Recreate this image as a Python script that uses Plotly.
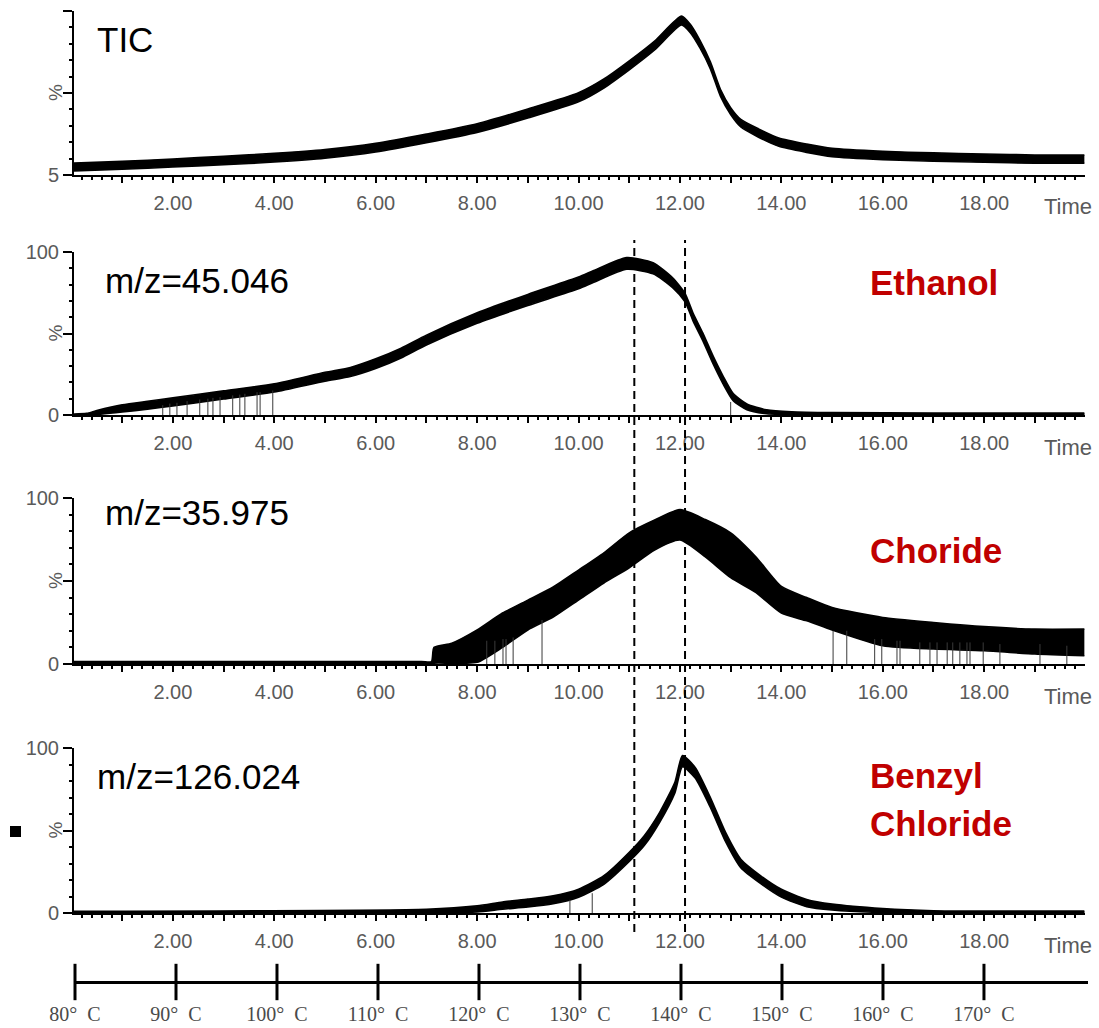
import plotly.graph_objects as go

W, H = 1099, 1028
def fx(px): return px / W
def fy(py): return 1 - py / H

# ---------------- data ----------------
# TIC panel: time, band centre (%), band half-thickness (%)
tic_t = [0.05, 1, 2, 3, 4, 5, 6, 7, 8, 9, 10, 10.5, 11, 11.5, 12.03, 12.2, 12.4, 12.6,
         12.8, 13.0, 13.2, 13.55, 13.95, 14.5, 15, 16, 17, 18, 19, 19.98]
tic_c = [9.6, 10.6, 11.9, 13.4, 15.0, 17.2, 20.8, 26.2, 32.2, 40.6, 50.0, 58.0, 68.5, 80.0,
         94.5, 90.0, 80.5, 68.5, 52.5, 42.0, 35.0, 29.3, 24.0, 20.5, 18.0, 16.3, 15.4, 14.8, 14.2, 14.2]
tic_s = [2.3, 2.3, 2.3, 2.5, 2.5, 2.5, 2.5, 2.5, 2.5, 2.6, 2.6, 2.6, 2.6, 2.6, 2.6, 2.4, 2.2, 2.0,
         2.0, 2.0, 2.2, 2.4, 2.4, 2.4, 2.4, 2.4, 2.4, 2.4, 2.4, 2.4]

# Ethanol m/z=45.046
eth_t = [0.05, 0.3, 0.5, 1, 1.5, 2, 3, 4, 5, 5.5, 6, 6.5, 7, 8, 9, 10, 10.3, 10.95, 11.47, 11.86, 12.1,
         12.26, 12.45, 12.65, 12.85, 13.05, 13.32, 13.71, 14.2, 15, 17, 19.98]
eth_c = [0.3, 0.5, 1.5, 4.0, 6.0, 8.0, 12.3, 16.6, 23.5, 26.4, 31.5, 38.0, 46.0, 59.5, 70.6, 81.0, 85.0,
         93.0, 90.0, 81.0, 72.0, 60.0, 48.0, 34.0, 21.5, 11.0, 5.0, 2.0, 1.2, 0.9, 0.7, 0.7]
eth_s = [0.3, 0.5, 1.2, 2.2, 2.4, 2.5, 2.5, 2.5, 2.7, 2.8, 3.0, 3.0, 3.0, 3.2, 3.4, 3.6, 3.6, 3.6, 3.4,
         3.0, 2.6, 2.4, 2.4, 2.4, 2.4, 2.2, 1.8, 1.2, 0.8, 0.6, 0.5, 0.5]
eth_spike_t = [1.80, 1.94, 2.08, 2.28, 2.53, 2.69, 2.79, 2.93, 3.18, 3.32, 3.42, 3.66, 3.72, 3.97, 13.0]
eth_spike_v = [6, 7, 7.5, 8.5, 9.5, 10, 10.5, 11, 12, 12.5, 13, 14, 14, 15, 8]

# Choride m/z=35.975 : time, upper and lower edge of the band (%)
chl_t = [0.05, 6.9, 7.1, 7.15, 7.5, 8.0, 8.5, 9.0, 9.5, 10.0, 10.5, 11.0, 11.5, 12.0, 12.5,
         13.0, 13.5, 14.0, 14.5, 15.0, 16.0, 17.0, 18.0, 19.0, 19.98]
chl_hi = [1.5, 1.5, 1.5, 10, 12.5, 20.5, 30.7, 38.5, 46.4, 56.6, 67, 79, 86.7, 93, 87,
          79, 64.5, 46.7, 40, 34, 28, 25, 22.5, 21, 21]
chl_lo = [0, 0, 0, 0.5, 0.5, 1, 10, 20.5, 28.3, 38.5, 48.8, 58, 68.7, 74.7, 64.5,
          52, 43, 30.7, 26, 20.5, 11, 9, 8, 6, 5]
chl_spike_t = [8.19, 8.35, 8.51, 8.57, 8.71, 9.28, 15.02, 15.29, 15.84, 15.98, 16.28, 16.34,
               16.73, 16.93, 17.07, 17.27, 17.38, 17.52, 17.66, 17.72, 17.98, 18.31, 19.1, 19.63]
chl_spike_v = [14, 14, 15, 15, 16, 26.5, 20, 20, 15, 15, 14, 14, 13, 13, 13, 13, 13, 13, 13,
               13, 13, 12, 12, 11]

# Benzyl Chloride m/z=126.024
bzc_t = [0.05, 7, 8, 8.5, 9, 9.5, 10, 10.5, 11, 11.3, 11.6, 11.9, 12.05, 12.3, 12.6, 12.9,
         13.2, 13.6, 14, 14.5, 15, 16, 17, 19.98]
bzc_c = [0.5, 1.2, 2.5, 4.5, 6, 8, 12, 20, 34, 44, 58, 76, 92, 85, 67, 46, 30, 20, 12, 6,
         3.6, 1.5, 0.8, 0.7]
bzc_s = [0.5, 1.0, 1.8, 2.2, 2.4, 2.4, 2.4, 2.6, 2.8, 3.0, 3.0, 3.2, 3.4, 3.2, 3.0, 2.8,
         2.6, 2.4, 2.4, 2.2, 1.8, 1.2, 0.6, 0.5]
bzc_spike_t = [9.83, 10.27]
bzc_spike_v = [8, 12]

marker_times = [11.1, 12.1]

time_major = list(range(1, 20))
time_text = ["%.2f" % v if v % 2 == 0 else "" for v in time_major]

temp_ticks = [80, 90, 100, 110, 120, 130, 140, 150, 160, 170]
temp_text = ["%d°\u00a0\u00a0C" % v for v in temp_ticks]

panel_labels = ["TIC", "m/z=45.046", "m/z=35.975", "m/z=126.024"]
compound_labels = [["Ethanol"], ["Choride"], ["Benzyl", "Chloride"]]

# ---------------- layout geometry (pixels) ----------------
X_LEFT, X_RIGHT = 74, 1084.6
T_RANGE = [0.05, 19.98]
panels = [  # (top px, bottom px, y range)
    (11, 175, [5, 100]),
    (252, 415, [0, 100]),
    (498, 664, [0, 100]),
    (748, 913, [0, 100]),
]

TICK_FONT = dict(family="Liberation Sans, Arial", size=20, color="#5a5a5a")

fig = go.Figure()

def band(t, lo, hi, k):
    ax = dict(xaxis="x" if k == 1 else "x%d" % k, yaxis="y" if k == 1 else "y%d" % k)
    fig.add_trace(go.Scatter(x=t, y=lo, mode="lines", line=dict(color="black", width=1.6, shape="spline", smoothing=0.6),
                             showlegend=False, hoverinfo="skip", **ax))
    fig.add_trace(go.Scatter(x=t, y=hi, mode="lines", fill="tonexty", fillcolor="black",
                             line=dict(color="black", width=1.6, shape="spline", smoothing=0.6),
                             showlegend=False, hoverinfo="skip", **ax))

def spikes(ts, vs, k):
    xs, ys = [], []
    for t, v in zip(ts, vs):
        xs += [t, t, None]
        ys += [0, v, None]
    fig.add_trace(go.Scatter(x=xs, y=ys, mode="lines", line=dict(color="#3a3a3a", width=1),
                             showlegend=False, hoverinfo="skip",
                             xaxis="x%d" % k, yaxis="y%d" % k))

band(tic_t, [c - s for c, s in zip(tic_c, tic_s)], [c + s for c, s in zip(tic_c, tic_s)], 1)
band(eth_t, [max(0, c - s) for c, s in zip(eth_c, eth_s)], [c + s for c, s in zip(eth_c, eth_s)], 2)
spikes(eth_spike_t, eth_spike_v, 2)
band(chl_t, chl_lo, chl_hi, 3)
spikes(chl_spike_t, chl_spike_v, 3)
band(bzc_t, [max(0, c - s) for c, s in zip(bzc_c, bzc_s)], [c + s for c, s in zip(bzc_c, bzc_s)], 4)
spikes(bzc_spike_t, bzc_spike_v, 4)

# temperature scale ticks (crossing the line)
fig.add_trace(go.Scatter(x=temp_ticks, y=[0] * len(temp_ticks), mode="markers",
                         marker=dict(symbol="line-ns", size=26, line=dict(width=3, color="black")),
                         cliponaxis=False, showlegend=False, hoverinfo="skip",
                         xaxis="x5", yaxis="y5"))

layout = dict(width=W, height=H, margin=dict(l=0, r=0, t=0, b=0, autoexpand=False),
              paper_bgcolor="white", plot_bgcolor="rgba(0,0,0,0)", showlegend=False)

annotations = []
for i, (top, bot, yr) in enumerate(panels):
    k = i + 1
    xname = "xaxis" if k == 1 else "xaxis%d" % k
    yname = "yaxis" if k == 1 else "yaxis%d" % k
    layout[xname] = dict(domain=[fx(X_LEFT), fx(X_RIGHT)], range=T_RANGE, anchor="y" if k == 1 else "y%d" % k,
                         showline=True, linecolor="black", linewidth=2, mirror=False, automargin=False,
                         ticks="outside", ticklen=6, tickwidth=2, tickcolor="black",
                         tickmode="array", tickvals=time_major, ticktext=time_text,
                         tickfont=TICK_FONT, ticklabelstandoff=3,
                         minor=dict(tickmode="linear", tick0=0, dtick=0.2, ticks="outside",
                                    ticklen=3, tickwidth=1.5, tickcolor="black"),
                         showgrid=False, zeroline=False, fixedrange=True)
    if k == 1:
        yv, yt = [5, 52.5, 100], ["5", "", ""]
        minor = dict(tickmode="linear", tick0=5, dtick=9.5, ticks="outside", ticklen=3, tickwidth=2, tickcolor="black")
    else:
        yv, yt = [0, 50, 100], ["0", "", "100"]
        minor = dict(tickmode="linear", tick0=0, dtick=10, ticks="outside", ticklen=3, tickwidth=2, tickcolor="black")
    layout[yname] = dict(domain=[fy(bot), fy(top)], range=yr, anchor="x" if k == 1 else "x%d" % k,
                         showline=True, linecolor="black", linewidth=2, automargin=False,
                         ticks="outside", ticklen=9, tickwidth=2, tickcolor="black",
                         tickmode="array", tickvals=yv, ticktext=yt, tickfont=TICK_FONT,
                         ticklabelstandoff=0,
                         minor=minor, showgrid=False, zeroline=False, fixedrange=True)
    # "%" label and "Time" label
    annotations.append(dict(xref="paper", yref="paper", x=fx(55), y=fy((top + bot) / 2), text="%",
                            textangle=-90, showarrow=False, xanchor="center", yanchor="middle",
                            font=dict(family="Liberation Sans, Arial", size=19, color="#5a5a5a")))
    annotations.append(dict(xref="paper", yref="paper", x=fx(1068), y=fy(bot + 32), text="Time",
                            showarrow=False, xanchor="center", yanchor="middle",
                            font=dict(family="Liberation Sans, Arial", size=22, color="#5a5a5a")))

# panel labels
lab_pos = [(97, 40), (105, 281), (105, 512), (97, 776)]
for txt, (px, py) in zip(panel_labels, lab_pos):
    annotations.append(dict(xref="paper", yref="paper", x=fx(px - 2), y=fy(py), text=txt,
                            showarrow=False, xanchor="left", yanchor="middle",
                            font=dict(family="Liberation Sans, Arial", size=35, color="black")))
comp_pos = [[282], [550], [775, 823]]
for lines, ys in zip(compound_labels, comp_pos):
    for txt, py in zip(lines, ys):
        annotations.append(dict(xref="paper", yref="paper", x=fx(868), y=fy(py), text="<b>%s</b>" % txt,
                                showarrow=False, xanchor="left", yanchor="middle",
                                font=dict(family="Liberation Sans, Arial", size=35, color="#C00000")))
layout["annotations"] = annotations

# temperature axis
layout["xaxis5"] = dict(domain=[fx(75), fx(1088)], range=[80, 180.3], anchor="free", position=fy(982),
                        showline=True, linecolor="black", linewidth=3, ticks="", automargin=False,
                        tickmode="array", tickvals=temp_ticks, ticktext=temp_text,
                        tickfont=dict(family="Liberation Serif, Times New Roman, serif", size=20, color="#4a4a4a"),
                        ticklabelstandoff=13, showgrid=False, zeroline=False, fixedrange=True)
layout["yaxis5"] = dict(domain=[fy(997), fy(967)], range=[-1, 1], anchor="x5", visible=False,
                        automargin=False, fixedrange=True)

shapes = []
for t in marker_times:
    shapes.append(dict(type="line", xref="x2", yref="paper", x0=t, x1=t, y0=fy(932), y1=fy(240),
                       line=dict(color="black", width=2, dash="8px,5px")))
shapes.append(dict(type="rect", xref="paper", yref="paper", x0=fx(10), x1=fx(21), y0=fy(837), y1=fy(826),
                   fillcolor="black", line=dict(width=0)))
layout["shapes"] = shapes

fig.update_layout(**layout)
fig.write_html("out.html")
